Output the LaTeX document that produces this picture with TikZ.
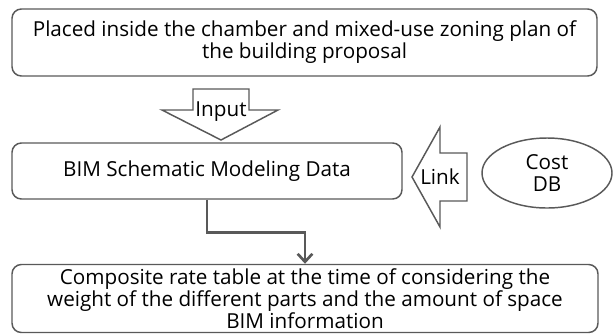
\documentclass[tikz,border=0pt]{standalone}
\usepackage{fontspec}
\setmainfont{Open Sans}
\usetikzlibrary{shapes,arrows.meta}

\definecolor{linegray}{HTML}{595959}

\begin{document}
\begin{tikzpicture}[x=0.75pt,y=-0.75pt]
    \tikzstyle{every node}=[font=\fontsize{15.5}{16.5}\selectfont, text=black]
    \tikzstyle{stepbox}=[rectangle, rounded corners=7pt, draw=linegray, line width=1.1pt, align=center, inner sep=0pt]
    \tikzstyle{blockarrow}=[draw=linegray, line width=1.1pt, fill=white, line join=miter]
    \tikzstyle{conn}=[draw=linegray, line width=2pt, -{Straight Barb[length=6pt,width=11pt,line width=2pt]}]
    \useasboundingbox (0,0) rectangle (613,333);
    % boxes
    \node[stepbox, minimum width=438.75pt, minimum height=50.25pt] (plan) at (304.5,42.5)
      {Placed inside the chamber and mixed-use zoning plan of\\the building proposal};
    \node[stepbox, minimum width=292.5pt, minimum height=42pt] (bim) at (207,171)
      {BIM Schematic Modeling Data};
    \node[stepbox, minimum width=439.5pt, minimum height=51pt] (rate) at (305,298.5)
      {Composite rate table at the time of considering the\\weight of the different parts and the amount of space\\BIM information};
    \node[ellipse, draw=linegray, line width=1.1pt, minimum width=97.5pt, minimum height=52.5pt, align=center, inner sep=0pt] (cost) at (547,173)
      {Cost\\DB};
    % block arrows
    \draw[blockarrow] (193,89) -- (249,89) -- (249,110) -- (278,110) -- (221,140)
      -- (162,110) -- (193,110) -- cycle;
    \node (input) at (221,112) {Input};
    \draw[blockarrow] (467,153) -- (440,153) -- (440,127) -- (412,177) -- (440,227)
      -- (440,201) -- (467,201) -- cycle;
    \node (link) at (440,177) {Link};
    % connector
    \draw[conn] (bim.south) -- ++(0,33) -| (rate.north);
\end{tikzpicture}
\end{document}
